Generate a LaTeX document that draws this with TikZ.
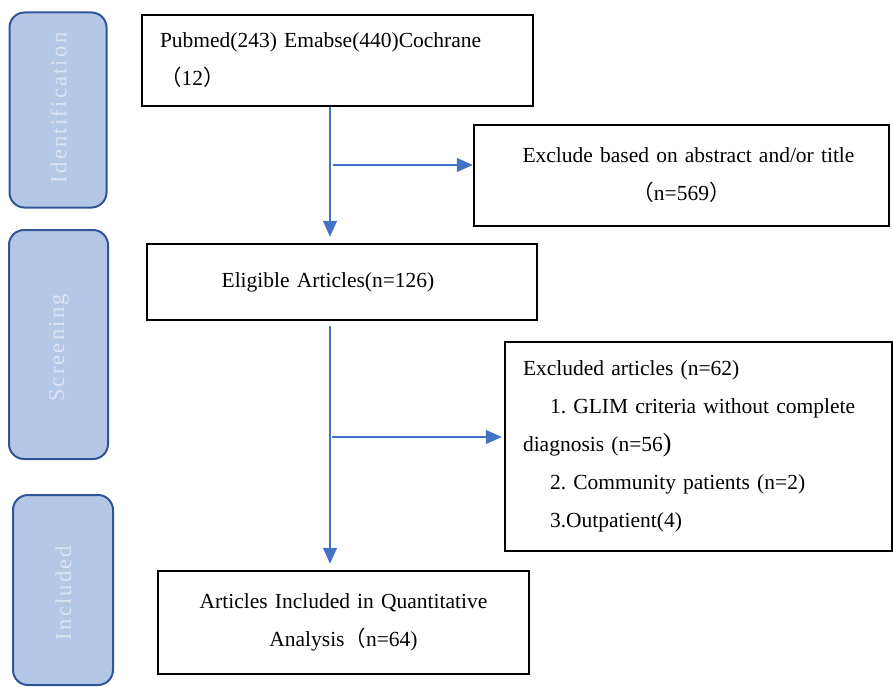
\documentclass[tikz,border=0pt]{standalone}
\usepackage{fontspec}
\setmainfont{Liberation Serif}
\newfontfamily\cjk{Noto Sans CJK SC}
\newfontfamily\sidefont[LetterSpace=10]{Liberation Serif}
\usetikzlibrary{arrows.meta,calc}
\definecolor{sidefill}{HTML}{B4C7E7}
\definecolor{sideline}{HTML}{2F5597}
\definecolor{sidetext}{HTML}{DCE4F3}
\definecolor{arrowblue}{HTML}{4472C4}
\tikzset{
  sidebox/.style={draw=sideline, line width=2pt, fill=sidefill, rounded corners=15pt, inner sep=0pt},
  sidelabel/.style={rotate=90, text=sidetext, font=\sidefont\fontsize{22.5}{26}\selectfont, inner sep=0pt},
  flowbox/.style={draw=black, line width=2.5pt, inner sep=0pt, font=\fontsize{21.5}{38}\selectfont\frenchspacing},
  flowarrow/.style={draw=arrowblue, line width=1.5pt, -{Triangle[length=16pt,width=14pt]}}
}
\begin{document}
\begin{tikzpicture}[x=1pt,y=-1pt]
\useasboundingbox (0,0) rectangle (893,687);
% side boxes
\node[sidebox, minimum width=97pt, minimum height=195pt] (sid) at (58,110) {};
\node[sidelabel] (sidt) at (58.5,108) {Identification};
\node[sidebox, minimum width=99pt, minimum height=229pt] (sscr) at (58.5,344.5) {};
\node[sidelabel] (sscrt) at (59,348) {Screening};
\node[sidebox, minimum width=100pt, minimum height=190pt] (sinc) at (63,590) {};
\node[sidelabel] (sinct) at (63.5,593) {Included};
% flow boxes
\node[flowbox, minimum width=391pt, minimum height=91pt, text width=355pt, align=left] (src) at (337.5,60.5)
  {Pubmed(243) Emabse(440)Cochrane\\{\cjk（}12{\cjk）}};
\node[flowbox, minimum width=415pt, minimum height=101pt, text width=400pt, align=center] (exa) at (681.5,175.5)
  {\hspace*{14pt}Exclude based on abstract and/or title\\{\cjk（}n=569{\cjk）}};
\node[flowbox, minimum width=390pt, minimum height=76pt, text width=370pt, align=center] (elig) at (342,282)
  {\hspace*{-28pt}Eligible Articles(n=126)};
\node[flowbox, minimum width=387pt, minimum height=209pt, text width=351pt, align=left] (exb) at (698.5,446.5)
  {Excluded articles (n=62)\\
   \hspace*{27pt}1. GLIM criteria without complete\\
   diagnosis (n=56{\fontsize{26}{38}\selectfont )}\\
   \hspace*{27pt}2. Community patients (n=2)\\
   \hspace*{27pt}3.Outpatient(4)};
\node[flowbox, minimum width=371pt, minimum height=103pt, text width=350pt, align=center] (fin) at (343.5,622.5)
  {Articles Included in Quantitative\\Analysis{\cjk（}n=64)};
% connectors
\coordinate (v1) at (330,0);
\coordinate (b1) at (333,165);
\coordinate (b2) at (332,437);
\draw[flowarrow, shorten >=6pt] (v1 |- src.south) -- (v1 |- elig.north);
\draw[flowarrow] (b1) -- (exa.west |- b1);
\draw[flowarrow, shorten >=6pt] ($(v1 |- elig.south)+(0,5)$) -- (v1 |- fin.north);
\draw[flowarrow, shorten >=2pt] (b2) -- (exb.west |- b2);
\end{tikzpicture}
\end{document}
